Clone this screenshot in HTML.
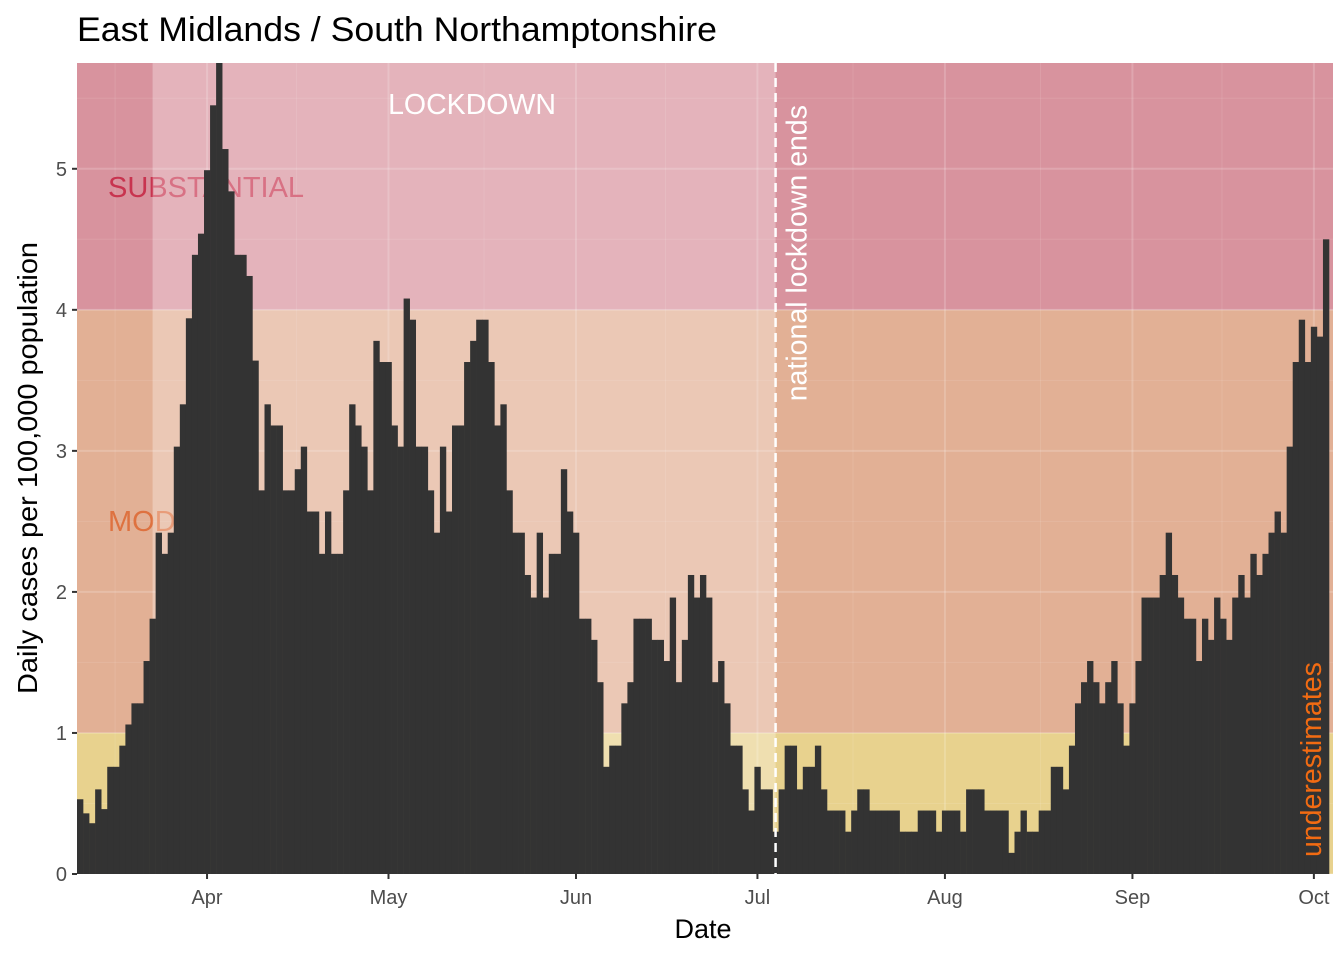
<!DOCTYPE html>
<html><head><meta charset="utf-8"><style>
body{margin:0;background:#fff;}
svg{display:block;font-family:"Liberation Sans",sans-serif;}
</style></head><body>
<svg id="chart" width="1344" height="960" viewBox="0 0 1344 960" xmlns="http://www.w3.org/2000/svg">
<text x="77" y="41" font-size="34" textLength="640" lengthAdjust="spacingAndGlyphs" fill="#000">East Midlands / South Northamptonshire</text>
<g id="plot"></g>
<text x="703" y="938" font-size="27" text-anchor="middle" fill="#000">Date</text>
<text transform="translate(37,468) rotate(-90)" font-size="28" text-anchor="middle" textLength="452" lengthAdjust="spacingAndGlyphs" fill="#000">Daily cases per 100,000 population</text>
</svg>
<script>
const startDate = "2020-03-11";
const dailyCases = [0.53,0.43,0.36,0.60,0.46,0.76,0.76,0.91,1.06,1.21,1.21,1.51,1.81,2.42,2.27,2.42,3.03,3.33,3.94,4.39,4.54,4.99,5.45,5.75,5.14,4.84,4.39,4.39,4.24,3.64,2.72,3.33,3.18,3.18,2.72,2.72,2.87,3.03,2.57,2.57,2.27,2.57,2.27,2.27,2.72,3.33,3.18,3.03,2.72,3.78,3.63,3.63,3.18,3.03,4.08,3.93,3.03,3.03,2.72,2.42,3.03,2.57,3.18,3.18,3.63,3.78,3.93,3.93,3.63,3.18,3.33,2.72,2.42,2.42,2.12,1.96,2.42,1.96,2.27,2.27,2.87,2.57,2.42,1.81,1.81,1.66,1.36,0.76,0.91,0.91,1.21,1.36,1.81,1.81,1.81,1.66,1.66,1.51,1.96,1.36,1.66,2.12,1.96,2.12,1.96,1.36,1.51,1.21,0.91,0.91,0.60,0.45,0.76,0.60,0.60,0.30,0.60,0.91,0.91,0.60,0.76,0.76,0.91,0.60,0.45,0.45,0.45,0.30,0.45,0.60,0.60,0.45,0.45,0.45,0.45,0.45,0.30,0.30,0.30,0.45,0.45,0.45,0.30,0.45,0.45,0.45,0.30,0.60,0.60,0.60,0.45,0.45,0.45,0.45,0.15,0.30,0.45,0.30,0.30,0.45,0.45,0.76,0.76,0.60,0.91,1.21,1.36,1.51,1.36,1.21,1.36,1.51,1.21,0.91,1.21,1.51,1.96,1.96,1.96,2.12,2.42,2.12,1.96,1.81,1.81,1.51,1.81,1.66,1.96,1.81,1.66,1.96,2.12,1.96,2.27,2.12,2.27,2.42,2.57,2.42,3.03,3.63,3.93,3.63,3.88,3.81,4.50];
const yTicks = [0,1,2,3,4,5];
const xTickLabels = ["Apr","May","Jun","Jul","Aug","Sep","Oct"];
const xTickDates = ["2020-04-01","2020-05-01","2020-06-01","2020-07-01","2020-08-01","2020-09-01","2020-10-01"];
const bandLimits = [0,1,4,5.75];
const lockdownStart = "2020-03-23", lockdownEnd = "2020-07-04";

const NS="http://www.w3.org/2000/svg";
const L=77, R=1329, T=63, B=874, yMax=5.75;
const n=dailyCases.length, bw=(R-L)/n;
const day0=Date.parse(startDate);
const dayIdx=d=>(Date.parse(d)-day0)/86400000;
const xC=i=>L+(i+0.5)*bw;
const y=v=>B-(v/yMax)*(B-T);
const g=document.getElementById('plot');
function mk(tag,attrs){const e=document.createElementNS(NS,tag);for(const k in attrs)e.setAttribute(k,attrs[k]);g.appendChild(e);return e;}

let e=mk('rect',{x:L,y:T,width:R-L+4,height:B-T,fill:'#ebebeb'});


const bandColors=['#e8d28e','#e2b095','#d8939e'];
const bandNames=['band-low','band-moderate','band-substantial'];
for(let b=0;b<3;b++){
  e=mk('rect',{x:L,y:y(bandLimits[b+1]),width:R-L+4,height:y(bandLimits[b])-y(bandLimits[b+1]),fill:bandColors[b]});
  
  
}
for(let v=0;v<=5.5;v+=0.5){
  e=mk('line',{x1:L,x2:R+4,y1:y(v),y2:y(v),stroke:'#fff','stroke-opacity':v%1===0?0.18:0.1,'stroke-width':v%1===0?2:1});
  
  
}
xTickDates.forEach((d,k)=>{
  const x=xC(dayIdx(d));
  e=mk('line',{x1:x,x2:x,y1:T,y2:B,stroke:'#fff','stroke-opacity':0.18,'stroke-width':2});
  
  
  const xm=x-bw*15.2;
  if(xm>L){e=mk('line',{x1:xm,x2:xm,y1:T,y2:B,stroke:'#fff','stroke-opacity':0.1,'stroke-width':1});
  
  }
});
e=mk('text',{x:108,y:197,'font-size':29,fill:'#c8344f'});e.textContent='SUBSTANTIAL';


e=mk('text',{x:108,y:531,'font-size':29,fill:'#de7240'});e.textContent='MODERATE';


const lx1=xC(dayIdx(lockdownStart)), lx2=xC(dayIdx(lockdownEnd));
e=mk('rect',{x:lx1,y:T,width:lx2-lx1,height:B-T,fill:'#fff','fill-opacity':0.3});


e=mk('text',{x:472,y:114,'font-size':28.5,fill:'#fff','text-anchor':'middle'});e.textContent='LOCKDOWN';


dailyCases.forEach((v,i)=>{
  const b=mk('rect',{x:L+i*bw,y:y(v),width:bw+0.3,height:B-y(v),fill:'#333333'});
  
  
});
e=mk('line',{x1:lx2,x2:lx2,y1:T,y2:B,stroke:'#fff','stroke-width':2.5,'stroke-dasharray':'9,6'});


e=mk('text',{transform:`translate(${lx2+31},105) rotate(-90)`,'font-size':28.5,fill:'#fff','text-anchor':'end'});e.textContent='national lockdown ends';


e=mk('text',{transform:`translate(1321,857) rotate(-90)`,'font-size':28.5,fill:'#f26b12'});e.textContent='underestimates';


yTicks.forEach(v=>{
  e=mk('line',{x1:L-5,x2:L,y1:y(v),y2:y(v),stroke:'#333','stroke-width':2});
  
  
  e=mk('text',{x:L-10,y:y(v)+7,'font-size':20,fill:'#4d4d4d','text-anchor':'end'});e.textContent=v;
  
  
});
xTickDates.forEach((d,k)=>{
  const x=xC(dayIdx(d));
  e=mk('line',{x1:x,x2:x,y1:B,y2:B+5,stroke:'#333','stroke-width':2});
  
  
  e=mk('text',{x:x,y:B+30,'font-size':20,fill:'#4d4d4d','text-anchor':'middle'});e.textContent=xTickLabels[k];
  
  
});
</script>
</body></html>
